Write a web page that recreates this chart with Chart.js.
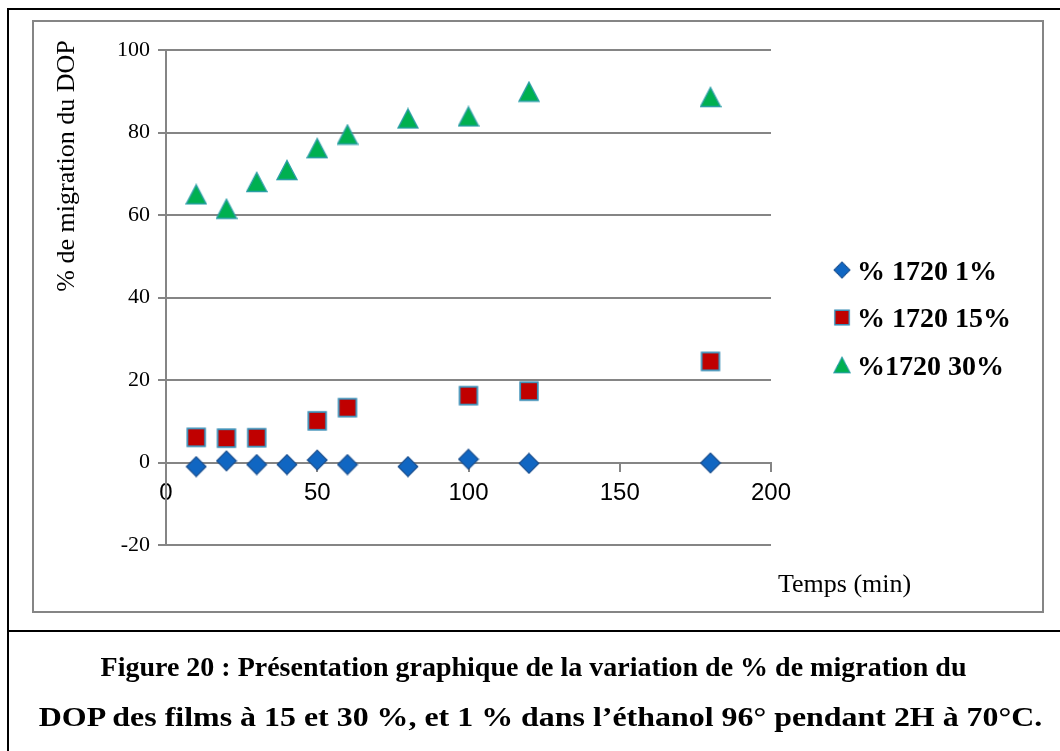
<!DOCTYPE html>
<html lang="fr">
<head>
<meta charset="utf-8">
<title>Migration du DOP</title>
<script src="https://cdn.jsdelivr.net/npm/chart.js@4/dist/chart.umd.min.js"></script>
<style>
  html, body { margin: 0; padding: 0; background: #fff; }
  body { width: 1060px; height: 751px; position: relative; overflow: hidden; }
  #cadre { position: absolute; left: 7px; top: 8px; width: 1100px; height: 800px; border: 2px solid #000; box-sizing: border-box; }
  #separation { position: absolute; left: 7px; top: 630px; width: 1100px; border-top: 2px solid #000; }
  #zone { position: absolute; left: 32px; top: 20px; width: 1012px; height: 593px; border: 2px solid #858585; box-sizing: border-box; }
  #graphique { position: absolute; left: 0; top: 0; }
  .titre-fig { position: absolute; text-align: center; font: bold 28px "Liberation Serif", serif; line-height: 32px; white-space: nowrap; color: #000; }
  .large { transform: scaleX(1.14); transform-origin: 540px 0; }
</style>
</head>
<body>
<div id="cadre"></div>
<div id="zone"></div>
<div id="separation"></div>
<canvas id="graphique" width="1060" height="751"></canvas>
<div class="titre-fig" style="top: 651px; left: 0; width: 1067px;">Figure 20 : Présentation graphique de la variation de % de migration du</div>
<div class="titre-fig large" style="top: 701px; left: 0; width: 1081px;">DOP des films à 15 et 30 %, et 1 % dans l’éthanol 96° pendant 2H à 70°C.</div>

<script>
// Temps de contact (min) et % de migration du DOP pour chaque film
const temps1 = [10, 20, 30, 40, 50, 60, 80, 100, 120, 180];
const migration1 = [-1.0, 0.4, -0.5, -0.5, 0.6, -0.5, -1.0, 0.8, -0.2, -0.1];

const temps15 = [10, 20, 30, 50, 60, 100, 120, 180];
const migration15 = [6.1, 5.9, 6.0, 10.1, 13.3, 16.2, 17.3, 24.5];

const temps30 = [10, 20, 30, 40, 50, 60, 80, 100, 120, 180];
const migration30 = [65.0, 61.5, 68.0, 70.9, 76.2, 79.5, 83.4, 83.9, 89.9, 88.6];

const nomsSeries = ['% 1720 1%', '% 1720 15%', '%1720 30%'];

const ticksX = [0, 50, 100, 150, 200];
const ticksY = [-20, 0, 20, 40, 60, 80, 100];

const GRIS = '#858585';

function creerMarqueur(forme, remplissage, contour) {
    /**
     * Dessine un marqueur (losange, carré ou triangle) dans un petit canvas
     * utilisé ensuite comme pointStyle par Chart.js.
     */
    const c = document.createElement('canvas');
    c.width = 22;
    c.height = 22;
    const g = c.getContext('2d');
    g.fillStyle = remplissage;
    g.strokeStyle = contour;
    g.beginPath();
    if (forme === 'losange') {
        g.lineWidth = 1.2;
        g.moveTo(11, 1.2);
        g.lineTo(20.8, 11);
        g.lineTo(11, 20.8);
        g.lineTo(1.2, 11);
    } else if (forme === 'carre') {
        g.lineWidth = 1.8;
        g.rect(2.2, 2.2, 17.6, 17.6);
    } else {
        g.lineWidth = 1.4;
        g.moveTo(11, 1.5);
        g.lineTo(21, 20.5);
        g.lineTo(1, 20.5);
    }
    g.closePath();
    g.fill();
    g.stroke();
    return c;
}

const marqueurs = [
    creerMarqueur('losange', '#1066C2', '#1B4F8E'),
    creerMarqueur('carre', '#C00000', '#3A8DB5'),
    creerMarqueur('triangle', '#00B050', '#2A9EA6')
];

function points(xs, ys) {
    return xs.map((x, i) => ({ x: x, y: ys[i] }));
}

// Titres des axes et légende à droite, dessinés après le graphique
const decor = {
    id: 'decor',
    afterDraw(chart) {
        const ctx = chart.ctx;
        ctx.save();
        ctx.fillStyle = '#000';

        ctx.font = '26px "Liberation Serif", serif';
        ctx.textBaseline = 'alphabetic';
        ctx.save();
        ctx.translate(74, 166);
        ctx.rotate(-Math.PI / 2);
        ctx.textAlign = 'center';
        ctx.fillText('% de migration du DOP', 0, 0);
        ctx.restore();

        ctx.textAlign = 'left';
        ctx.fillText('Temps (min)', 778, 592);

        ctx.font = 'bold 28px "Liberation Serif", serif';
        chart.data.datasets.forEach((ds, i) => {
            const y = 270 + i * 47.5;
            const m = ds.pointStyle;
            ctx.drawImage(m, 842 - 9, y - 9, 18, 18);
            ctx.fillText(ds.label, 857, y + 9.5);
        });
        ctx.restore();
    }
};

new Chart(document.getElementById('graphique'), {
    type: 'scatter',
    data: {
        datasets: [
            { label: nomsSeries[0], data: points(temps1, migration1), pointStyle: marqueurs[0], pointRadius: 10 },
            { label: nomsSeries[1], data: points(temps15, migration15), pointStyle: marqueurs[1], pointRadius: 10 },
            { label: nomsSeries[2], data: points(temps30, migration30), pointStyle: marqueurs[2], pointRadius: 10 }
        ]
    },
    options: {
        responsive: false,
        animation: false,
        layout: { padding: { left: 90, top: 50, right: 289, bottom: 206 } },
        plugins: {
            legend: { display: false },
            tooltip: { enabled: false }
        },
        scales: {
            x: {
                type: 'linear',
                position: { y: 0 },
                min: 0,
                max: 200,
                afterBuildTicks: (axis) => { axis.ticks = ticksX.map(v => ({ value: v })); },
                ticks: {
                    autoSkip: false,
                    maxRotation: 0,
                    padding: 8,
                    color: '#000',
                    font: { family: '"Liberation Sans", sans-serif', size: 24 }
                },
                grid: { drawOnChartArea: false, drawTicks: true, tickLength: 8, color: GRIS, lineWidth: 2 },
                border: { color: GRIS, width: 2 }
            },
            y: {
                type: 'linear',
                min: -20,
                max: 100,
                afterBuildTicks: (axis) => { axis.ticks = ticksY.map(v => ({ value: v })); },
                afterFit: (axis) => { axis.width = 76; },
                ticks: {
                    padding: 8,
                    color: '#000',
                    font: { family: '"Liberation Serif", serif', size: 22 }
                },
                grid: { color: GRIS, lineWidth: 2, tickLength: 8 },
                border: { color: GRIS, width: 2 }
            }
        }
    },
    plugins: [decor]
});
</script>
</body>
</html>
